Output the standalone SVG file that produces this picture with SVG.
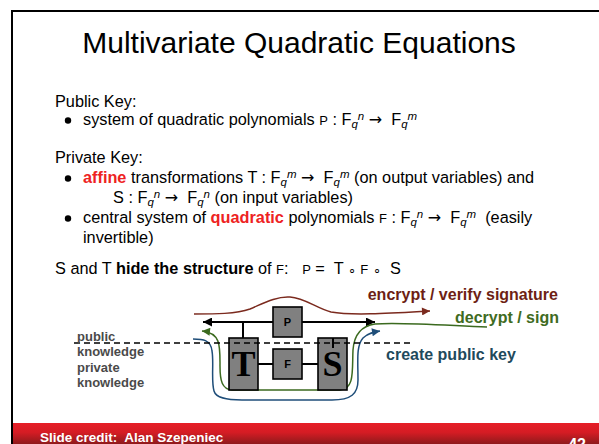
<svg xmlns="http://www.w3.org/2000/svg" width="599" height="444" viewBox="0 0 599 444">
  <defs>
    <linearGradient id="band" x1="0" y1="0" x2="0" y2="1">
      <stop offset="0" stop-color="#e61e27"/>
      <stop offset="0.45" stop-color="#d51c24"/>
      <stop offset="1" stop-color="#8e1a1c"/>
    </linearGradient>
    <marker id="ah-black" viewBox="0 0 10 10" refX="10" refY="5" markerWidth="9" markerHeight="9" markerUnits="userSpaceOnUse" orient="auto-start-reverse">
      <path d="M0,0 L10,5 L0,10 z" fill="#000"/>
    </marker>
    <marker id="ah-red" viewBox="0 0 10 10" refX="10" refY="5" markerWidth="9" markerHeight="8" markerUnits="userSpaceOnUse" orient="auto">
      <path d="M0,0 L10,5 L0,10 z" fill="#7b2a1e"/>
    </marker>
    <marker id="ah-green" viewBox="0 0 10 10" refX="10" refY="5" markerWidth="9" markerHeight="8" markerUnits="userSpaceOnUse" orient="auto">
      <path d="M0,0 L10,5 L0,10 z" fill="#3b6a1f"/>
    </marker>
    <marker id="ah-blue" viewBox="0 0 10 10" refX="10" refY="5" markerWidth="9" markerHeight="8" markerUnits="userSpaceOnUse" orient="auto">
      <path d="M0,0 L10,5 L0,10 z" fill="#1f4e79"/>
    </marker>
  </defs>
  <style>
    text { font-family: "Liberation Sans", Arial, sans-serif; white-space: pre; }
    .title { font-size: 30px; fill: #000; }
    .body { font-size: 16.3px; fill: #000; }
    .hl { fill: #ee2222; font-weight: bold; }
    .b { font-weight: bold; }
    .sm { font-size: 13px; }
    .arr { font-family: "DejaVu Sans", sans-serif; font-size: 16px; }
    .sub { font-size: 11.5px; font-style: italic; }
    .sup { font-size: 11.5px; font-style: italic; }
    .box { fill: #808080; stroke: #000; stroke-width: 1.6; }
    .big { font-family: "Liberation Serif", "Times New Roman", serif; font-weight: bold; font-size: 36px; fill: #000; }
    .lbl { font-size: 11px; font-weight: bold; fill: #000; }
    .wire { stroke: #000; stroke-width: 2; fill: none; }
    .flow { fill: none; stroke-width: 1.5; }
    .cap { font-size: 16px; font-weight: bold; }
    .know { font-size: 13px; font-weight: bold; fill: #4a4a4a; }
    .foot { font-size: 13.5px; font-weight: bold; fill: #fff; }
  </style>

  <!-- slide frame and footer band -->
  <rect x="12" y="11" width="600" height="450" fill="#fff" stroke="#000" stroke-width="2"/>
  <rect x="13" y="423" width="586" height="21" fill="url(#band)"/>
  <text class="foot" x="40" y="442">Slide credit:  Alan Szepeniec</text>
  <text class="foot" x="586" y="450" text-anchor="end" style="font-size:16px">42</text>

  <!-- title -->
  <text class="title" x="299" y="53" text-anchor="middle">Multivariate Quadratic Equations</text>

  <!-- body text -->
  <text class="body" x="55" y="107">Public Key:</text>
  <circle cx="68" cy="120.5" r="3.2" fill="#000"/>
  <text class="body" x="83" y="125">system of quadratic polynomials <tspan class="sm">P</tspan> : F<tspan class="sub" dy="2.5">q</tspan><tspan class="sup" dy="-8">n</tspan><tspan dy="5.5"> </tspan><tspan class="arr">→</tspan>  F<tspan class="sub" dy="2.5">q</tspan><tspan class="sup" dy="-8">m</tspan></text>

  <text class="body" x="55" y="163">Private Key:</text>
  <circle cx="68" cy="178.5" r="3.2" fill="#000"/>
  <text class="body" x="83" y="183"><tspan class="hl">affine</tspan> transformations T : F<tspan class="sub" dy="2.5">q</tspan><tspan class="sup" dy="-8">m</tspan><tspan dy="5.5"> </tspan><tspan class="arr">→</tspan>  F<tspan class="sub" dy="2.5">q</tspan><tspan class="sup" dy="-8">m</tspan><tspan dy="5.5"> (on output variables) and</tspan></text>
  <text class="body" x="113" y="203">S : F<tspan class="sub" dy="2.5">q</tspan><tspan class="sup" dy="-8">n</tspan><tspan dy="5.5"> </tspan><tspan class="arr">→</tspan>  F<tspan class="sub" dy="2.5">q</tspan><tspan class="sup" dy="-8">n</tspan><tspan dy="5.5"> (on input variables)</tspan></text>
  <circle cx="68" cy="218.5" r="3.2" fill="#000"/>
  <text class="body" x="83" y="223">central system of <tspan class="hl">quadratic</tspan> polynomials <tspan class="sm">F</tspan> : F<tspan class="sub" dy="2.5">q</tspan><tspan class="sup" dy="-8">n</tspan><tspan dy="5.5"> </tspan><tspan class="arr">→</tspan>  F<tspan class="sub" dy="2.5">q</tspan><tspan class="sup" dy="-8">m</tspan><tspan dy="5.5">  (easily</tspan></text>
  <text class="body" x="83" y="243">invertible)</text>

  <text class="body" x="55" y="274">S and T <tspan class="b">hide the structure</tspan> of <tspan class="sm">F</tspan>:   <tspan class="sm">P</tspan> =  T <tspan class="sm">∘</tspan> <tspan class="sm">F</tspan> <tspan class="sm">∘</tspan>  S</text>

  <!-- wiring between the maps -->
  <g id="connectors">
    <path class="wire" d="M203,322 H375" marker-start="url(#ah-black)" marker-end="url(#ah-black)"/>
    <path class="wire" d="M243,322 V338"/>
    <path class="wire" d="M258,364 H318"/>
    <!-- encrypt / verify -->
    <path class="flow" stroke="#7b2a1e" d="M194,314 C215,314 236,314 250,309 C262,304 276,296 290,297 C305,298 316,308 331,312 C352,316 395,313 430,311" marker-end="url(#ah-red)"/>
    <!-- decrypt / sign -->
    <path class="flow" stroke="#3b6a1f" d="M487,327 C440,325 398,322 375,324 C361,326 354,335 353,350 C352,370 355,389 340,390 L232,390 C222,389 220,381 220,366 C220,346 221,333 202,331" marker-end="url(#ah-green)"/>
    <!-- create public key -->
    <path class="flow" stroke="#1f4e79" d="M193,339 C203,339 211,340 212,351 C214,362 211,381 214,391 C216,398 226,400 242,400 L332,400 C351,400 358,394 358,380 C358,361 356,346 363,338 C368,333 374,332 380,331" marker-end="url(#ah-blue)"/>
  </g>

  <g id="node-P">
    <rect class="box" x="273" y="307" width="29" height="30"/>
    <text class="lbl" x="287.5" y="326" text-anchor="middle">P</text>
  </g>
  <g id="node-T">
    <rect class="box" x="229" y="338" width="29" height="52"/>
    <text class="big" x="243.5" y="376" text-anchor="middle">T</text>
  </g>
  <g id="node-F">
    <rect class="box" x="273" y="349" width="29" height="30"/>
    <text class="lbl" x="287.5" y="368" text-anchor="middle">F</text>
  </g>
  <g id="node-S">
    <rect class="box" x="318" y="338" width="29" height="52"/>
    <path class="wire" d="M333,338 V348"/>
    <text class="big" x="332.5" y="376" text-anchor="middle">S</text>
  </g>

  <!-- public / private boundary -->
  <path d="M74,343 H410" stroke="#000" stroke-width="1.4" stroke-dasharray="6,4" fill="none"/>

  <g id="labels">
    <text class="know" x="77" y="341">public</text>
    <text class="know" x="77" y="356">knowledge</text>
    <text class="know" x="77" y="372">private</text>
    <text class="know" x="77" y="387">knowledge</text>
    <text class="cap" x="558" y="300" text-anchor="end" fill="#6e1f14">encrypt / verify signature</text>
    <text class="cap" x="559" y="323" text-anchor="end" fill="#3f6b22">decrypt / sign</text>
    <text class="cap" x="386" y="360" fill="#1f4a5c">create public key</text>
  </g>
</svg>
